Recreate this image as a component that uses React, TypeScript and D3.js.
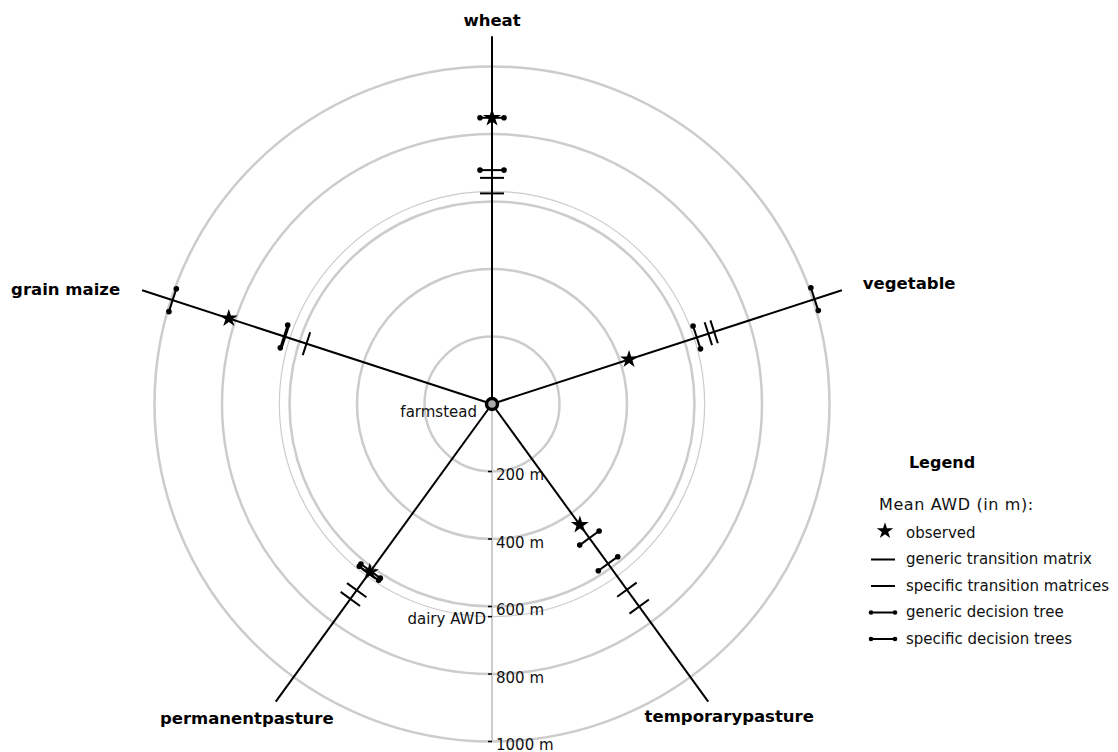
import React from "react";
import * as d3 from "d3";

const categories = ["wheat", "vegetable", "temporarypasture", "permanentpasture", "grain maize"];
const observed = [848, 427, 443, 616, 820];
const genericTM = [670, 674, 680, 682, 578];
const specificTM = [624, 692, 742, 714, 644];
const genericDT = [848, 638, 491, 612, 995];
const specificDT = [693, 1005, 585, 620, 648];
const ringValues = [200, 400, 600, 800, 1000];
const tickLabels = ["200 m", "400 m", "600 m", "800 m", "1000 m"];
const dairyAWD = 630;
const spokeLength = 1090;

const legendItems = [
  { kind: "star", label: "observed" },
  { kind: "line", label: "generic transition matrix" },
  { kind: "line", label: "specific transition matrices" },
  { kind: "dots", label: "generic decision tree" },
  { kind: "dots", label: "specific decision trees" },
];

// label placement offsets relative to spoke end (styling)
const labelOffsets: { dx: number; dy: number; anchor: string }[] = [
  { dx: 0, dy: -15, anchor: "middle" },
  { dx: 21, dy: -6, anchor: "start" },
  { dx: 21, dy: 16, anchor: "middle" },
  { dx: -29, dy: 18, anchor: "middle" },
  { dx: -22, dy: 0, anchor: "end" },
];

const W = 1118;
const H = 752;
const cx = 492;
const cy = 404;
const FONT = "DejaVu Sans, sans-serif";

export default function App() {
  const r = d3.scaleLinear().domain([0, 1000]).range([0, 337.5]);
  const angle = d3
    .scaleLinear()
    .domain([0, categories.length])
    .range([0, 2 * Math.PI]);

  const dir = (i: number) => {
    const a = angle(i);
    return { ux: Math.sin(a), uy: -Math.cos(a), px: Math.cos(a), py: Math.sin(a) };
  };
  const pt = (i: number, v: number) => {
    const d = dir(i);
    return [cx + d.ux * r(v), cy + d.uy * r(v)];
  };

  const star = d3.symbol().type(d3.symbolStar).size(100)();
  const starSmall = d3.symbol().type(d3.symbolStar).size(85)();
  const half = 12;

  const tick = (i: number, v: number, dots: boolean, key: string) => {
    const d = dir(i);
    const [x, y] = pt(i, v);
    const x1 = x - d.px * half, y1 = y - d.py * half;
    const x2 = x + d.px * half, y2 = y + d.py * half;
    return (
      <g key={key}>
        <line x1={x1} y1={y1} x2={x2} y2={y2} stroke="#000" strokeWidth={2} />
        {dots && <circle cx={x1} cy={y1} r={2.8} fill="#000" />}
        {dots && <circle cx={x2} cy={y2} r={2.8} fill="#000" />}
      </g>
    );
  };

  const legendX = 871;
  const legendY0 = 533;
  const legendStep = 26.5;

  return (
    <svg
      width={W}
      height={H}
      style={{ position: "absolute", left: 0, top: 0, background: "#fff" }}
      fontFamily={FONT}
    >
      {/* rings */}
      {ringValues.map((v) => (
        <circle key={v} cx={cx} cy={cy} r={r(v)} fill="none" stroke="#cccccc" strokeWidth={2.5} />
      ))}
      <circle cx={cx} cy={cy} r={r(dairyAWD)} fill="none" stroke="#cccccc" strokeWidth={1.2} />

      {/* distance axis */}
      <line x1={cx} y1={cy} x2={cx} y2={cy + r(1000)} stroke="#cccccc" strokeWidth={2} />
      {ringValues.map((v, k) => (
        <g key={"t" + v}>
          <line x1={cx - 4} x2={cx} y1={cy + r(v)} y2={cy + r(v)} stroke="#000" strokeWidth={1.5} />
          <text x={cx + 4} y={cy + r(v) + 4} fontSize={15} dominantBaseline="middle" fill="#111">
            {tickLabels[k]}
          </text>
        </g>
      ))}
      <line x1={cx - 4} x2={cx} y1={cy + r(dairyAWD)} y2={cy + r(dairyAWD)} stroke="#000" strokeWidth={1.5} />
      <text x={cx - 6} y={cy + r(dairyAWD) + 3} fontSize={15} textAnchor="end" dominantBaseline="middle" fill="#111">
        dairy AWD
      </text>

      {/* spokes */}
      {categories.map((c, i) => {
        const [x, y] = pt(i, spokeLength);
        const o = labelOffsets[i];
        return (
          <g key={c}>
            <line x1={cx} y1={cy} x2={x} y2={y} stroke="#000" strokeWidth={2} />
            <text
              x={x + o.dx}
              y={y + o.dy}
              textAnchor={o.anchor}
              dominantBaseline="middle"
              fontWeight="bold"
              fontSize={16.5}
              fill="#000"
            >
              {c}
            </text>
          </g>
        );
      })}

      {/* markers */}
      {categories.map((c, i) => (
        <g key={"m" + c}>
          {tick(i, genericTM[i], false, "gtm")}
          {tick(i, specificTM[i], false, "stm")}
          {tick(i, genericDT[i], true, "gdt")}
          {tick(i, specificDT[i], true, "sdt")}
          {(() => {
            const [x, y] = pt(i, observed[i]);
            return <path d={star as string} transform={`translate(${x},${y})`} fill="#000" />;
          })()}
        </g>
      ))}

      {/* farmstead */}
      <circle cx={cx} cy={cy} r={5.5} fill="#aaaaaa" stroke="#000" strokeWidth={3.4} />
      <text x={cx - 15} y={cy + 8} fontSize={15} textAnchor="end" dominantBaseline="middle" fill="#111">
        farmstead
      </text>

      {/* legend */}
      <text x={942} y={463} fontSize={16} fontWeight="bold" textAnchor="middle" dominantBaseline="middle">
        Legend
      </text>
      <text x={879} y={505} fontSize={16} letterSpacing={0.6} dominantBaseline="middle" fill="#111">
        Mean AWD (in m):
      </text>
      {legendItems.map((it, k) => {
        const y = legendY0 + k * legendStep;
        return (
          <g key={it.label}>
            {it.kind === "star" && (
              <path d={starSmall as string} transform={`translate(${legendX + 14},${y - 2})`} fill="#000" />
            )}
            {it.kind !== "star" && (
              <line x1={legendX} x2={legendX + 24} y1={y} y2={y} stroke="#000" strokeWidth={2} />
            )}
            {it.kind === "dots" && (
              <>
                <circle cx={legendX} cy={y} r={2.3} fill="#000" />
                <circle cx={legendX + 24} cy={y} r={2.3} fill="#000" />
              </>
            )}
            <text x={906} y={y} fontSize={15} dominantBaseline="middle" fill="#111">
              {it.label}
            </text>
          </g>
        );
      })}
    </svg>
  );
}
